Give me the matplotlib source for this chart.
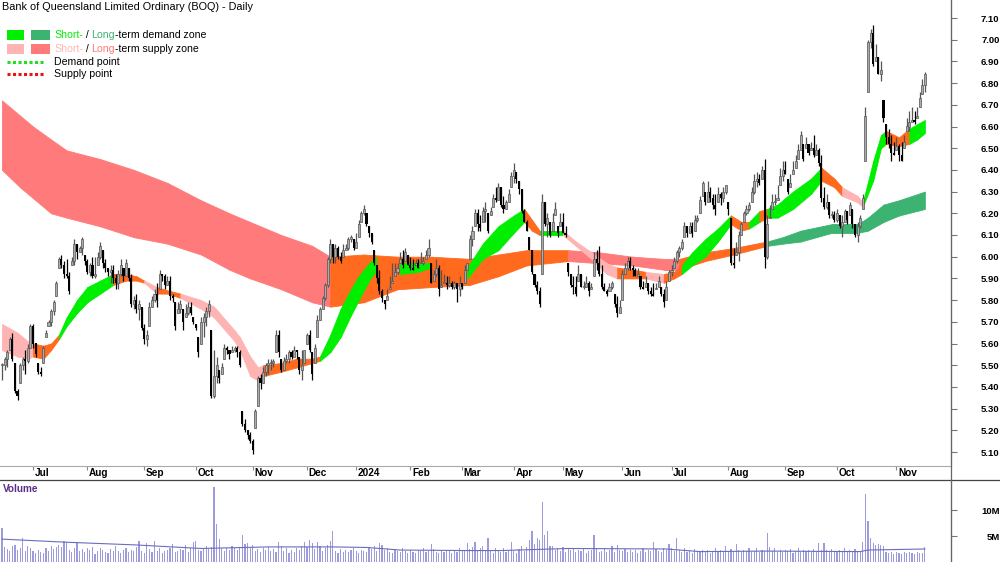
import numpy as np
import matplotlib
matplotlib.use("Agg")
import matplotlib.pyplot as plt
from matplotlib.lines import Line2D
from matplotlib.patches import Rectangle
from matplotlib.transforms import blended_transform_factory

plt.rcParams['font.family'] = ['Liberation Sans', 'DejaVu Sans']

# daily bars, prices in cents (Jun 2023 - Nov 2024)
highs = [
    551, 554, 557, 563, 565, 551, 539, 551, 554, 557, 560, 569, 569, 560, 551, 549, 559, 566, 571, 576,
    580, 589, 600, 601, 598, 599, 593, 600, 608, 606, 605, 609, 601, 599, 597, 600, 600, 602, 607, 603,
    599, 595, 596, 596, 592, 594, 599, 595, 599, 595, 592, 582, 583, 580, 577, 569, 566, 579, 582, 585,
    588, 594, 592, 592, 591, 591, 583, 579, 579, 580, 576, 578, 579, 579, 572, 569, 563, 572, 574, 577,
    580, 566, 557, 554, 548, 551, 560, 559, 557, 559,
    559, 559, 557, 529, 525, 520, 519, 516, 530, 545, 546, 549, 551, 553, 553, 553, 566, 566, 553, 554,
    555, 557, 557, 559, 557, 554, 557, 557, 565, 566, 556, 560, 573, 577, 582, 588, 600, 608, 606, 606,
    605, 602, 606, 606, 609, 610, 608, 611, 617, 621, 624, 620, 614, 611, 603, 596, 594, 585, 580, 585,
    591, 597, 597, 597, 602, 603, 604, 601, 600, 599, 599, 599, 602, 600, 603, 608, 597, 594, 599, 596,
    594, 592, 591, 591, 589, 589, 588, 591, 588, 596, 597, 610,
    614, 622, 622, 619, 623, 625, 620, 623, 629, 632, 634, 632, 628, 626, 631, 639, 643, 639, 635, 631,
    622, 617, 609, 603, 592, 589, 586, 629, 625, 620, 616, 620, 625, 614, 620, 620, 614, 597, 592, 591,
    591, 596, 592, 589, 591, 589, 588, 602, 603, 605, 596, 588, 585, 588, 589, 583, 582, 580, 594, 597,
    600, 600, 596, 595, 595, 591, 589, 591, 588, 586, 588, 588, 591, 586, 585, 589, 594, 596, 600, 603,
    605, 608, 616, 614, 616, 616, 619, 619, 628, 635,
    630, 635, 632, 629, 629, 632, 630, 632, 633, 625, 618, 604, 607, 612, 616, 621, 624, 625, 632, 638,
    639, 638, 642, 645, 619, 624, 629, 629, 633, 641, 644, 644, 636, 638, 644, 647, 652, 658, 652, 655,
    652, 653, 656, 652, 650, 647, 632, 629, 625, 621, 621, 622, 619, 619, 622, 621, 625, 622, 615, 616,
    619, 629, 669, 700, 705, 707, 698, 692, 690, 672, 661, 659, 656, 653, 655, 652, 653, 656, 664, 667,
    669, 667, 669, 676, 682, 685,
]
lows = [
    543, 548, 549, 557, 552, 537, 534, 542, 548, 546, 551, 558, 558, 554, 546, 545, 551, 563, 568, 568,
    573, 582, 595, 595, 590, 590, 583, 596, 596, 599, 602, 601, 596, 592, 591, 590, 590, 596, 599, 595,
    593, 591, 588, 588, 585, 585, 591, 589, 591, 589, 577, 576, 574, 571, 566, 560, 559, 568, 577, 579,
    577, 585, 589, 585, 587, 580, 579, 566, 574, 574, 566, 572, 573, 573, 569, 566, 554, 560, 563, 568,
    572, 535, 535, 542, 542, 546, 553, 555, 553, 556,
    556, 554, 549, 522, 519, 516, 514, 509, 521, 531, 539, 542, 545, 546, 548, 549, 556, 554, 547, 548,
    551, 551, 553, 554, 553, 546, 543, 551, 560, 556, 543, 551, 563, 571, 576, 580, 586, 597, 597, 597,
    599, 597, 600, 603, 603, 607, 603, 604, 609, 616, 619, 614, 609, 606, 596, 588, 583, 579, 576, 580,
    585, 588, 591, 592, 597, 595, 598, 596, 594, 594, 596, 595, 597, 596, 599, 600, 588, 589, 591, 582,
    586, 588, 585, 586, 585, 585, 579, 582, 585, 588, 594, 599,
    605, 614, 612, 612, 616, 616, 611, 619, 623, 625, 626, 623, 620, 622, 625, 632, 634, 634, 629, 620,
    616, 612, 603, 592, 586, 583, 577, 592, 614, 609, 609, 612, 619, 609, 614, 611, 609, 591, 586, 583,
    582, 589, 586, 585, 586, 582, 585, 591, 594, 591, 585, 584, 582, 584, 585, 577, 572, 574, 580, 592,
    594, 594, 591, 591, 591, 585, 585, 586, 583, 582, 582, 585, 586, 582, 577, 580, 589, 591, 595, 597,
    600, 603, 609, 609, 611, 609, 612, 616, 620, 628,
    624, 625, 625, 622, 619, 625, 624, 625, 629, 619, 596, 595, 601, 598, 610, 616, 619, 621, 625, 629,
    632, 633, 636, 595, 599, 618, 622, 624, 626, 633, 635, 638, 629, 632, 638, 641, 645, 649, 644, 650,
    647, 649, 646, 647, 642, 625, 622, 622, 618, 618, 616, 616, 613, 609, 616, 615, 619, 613, 609, 607,
    613, 622, 644, 676, 696, 688, 690, 684, 681, 662, 652, 650, 644, 647, 649, 644, 644, 650, 658, 658,
    662, 661, 664, 669, 675, 676,
]
closes = [
    550, 553, 556, 562, 553, 538, 536, 550, 553, 552, 558, 568, 560, 555, 547, 546, 558, 565, 570, 575,
    579, 588, 599, 596, 592, 591, 584, 598, 606, 602, 604, 608, 598, 593, 596, 591, 592, 600, 605, 597,
    595, 593, 594, 590, 588, 592, 596, 591, 597, 590, 578, 580, 576, 578, 567, 562, 564, 577, 580, 583,
    580, 592, 591, 587, 589, 582, 581, 568, 576, 578, 570, 574, 577, 574, 570, 567, 556, 570, 572, 575,
    578, 536, 545, 550, 544, 549, 558, 557, 555, 557,
    558, 556, 550, 523, 520, 518, 515, 511, 529, 544, 542, 547, 550, 551, 551, 552, 564, 556, 548, 552,
    553, 556, 554, 557, 556, 548, 550, 557, 564, 557, 546, 558, 571, 576, 581, 587, 599, 606, 600, 604,
    600, 598, 603, 604, 608, 609, 604, 607, 615, 620, 622, 615, 611, 607, 597, 590, 584, 581, 578, 582,
    586, 589, 593, 595, 599, 596, 602, 596, 595, 594, 597, 595, 597, 598, 601, 604, 588, 592, 595, 585,
    587, 588, 587, 588, 586, 588, 585, 588, 586, 594, 597, 608,
    612, 620, 615, 613, 621, 622, 612, 621, 627, 626, 632, 624, 622, 625, 629, 637, 640, 636, 631, 621,
    616, 612, 603, 593, 587, 584, 578, 625, 615, 618, 610, 616, 622, 611, 616, 611, 610, 593, 587, 586,
    583, 592, 586, 586, 588, 584, 586, 599, 597, 592, 586, 584, 583, 586, 588, 578, 574, 577, 592, 595,
    598, 595, 594, 591, 592, 586, 585, 588, 584, 583, 582, 585, 589, 583, 579, 586, 593, 594, 598, 602,
    604, 607, 614, 611, 614, 611, 617, 618, 626, 634,
    625, 630, 627, 624, 622, 629, 627, 630, 633, 622, 597, 596, 602, 610, 615, 620, 622, 624, 630, 635,
    636, 634, 640, 600, 615, 618, 625, 625, 627, 637, 640, 638, 630, 634, 640, 644, 649, 656, 645, 652,
    648, 650, 647, 649, 643, 627, 623, 625, 619, 619, 617, 620, 614, 616, 621, 617, 624, 615, 610, 614,
    618, 627, 665, 699, 703, 689, 692, 684, 686, 664, 655, 652, 648, 647, 651, 647, 644, 653, 660, 662,
    663, 662, 665, 673, 679, 684,
]
# volume in 0.1M shares
volumes = [
    66, 28, 25, 22, 30, 33, 24, 27, 47, 22, 30, 26, 22, 18, 24, 20, 17, 26, 21, 30,
    25, 29, 33, 28, 40, 38, 24, 20, 26, 38, 22, 25, 19, 27, 23, 28, 16, 22, 27, 24,
    20, 18, 25, 22, 30, 21, 17, 23, 26, 19, 24, 21, 28, 40, 22, 18, 37, 25, 20, 40,
    22, 26, 18, 21, 24, 27, 34, 19, 22, 25, 23, 33, 20, 27, 38, 41, 24, 22, 26, 30,
    25, 28, 144, 73, 44, 26, 22, 27, 24, 30, 26, 23, 29, 52, 34, 36, 27, 33, 22, 25,
    20, 26, 23, 28, 21, 25, 19, 38, 31, 22, 26, 18, 24, 20, 27, 23, 30, 38, 28, 42,
    36, 25, 38, 30, 22, 27, 33, 40, 60, 22, 18, 25, 20, 24, 19, 23, 26, 21, 17, 24,
    22, 20, 28, 25, 30, 22, 36, 33, 24, 27, 20, 18, 24, 22, 19, 26, 21, 17, 23, 20,
    18, 24, 21, 26, 19, 22, 34, 25, 20, 18, 23, 19, 21, 24, 17, 22, 20, 26, 21, 23,
    36, 25, 29, 38, 22, 27, 30, 24, 46, 21, 18, 26, 23, 20, 27, 19, 24, 38, 22, 17,
    25, 30, 22, 28, 42, 60, 34, 46, 42, 116, 52, 60, 31, 30, 24, 26, 22, 28, 20, 25,
    23, 27, 19, 24, 21, 26, 18, 22, 24, 52, 25, 20, 22, 26, 19, 23, 31, 20, 33, 24,
    21, 25, 19, 23, 20, 24, 18, 22, 26, 20, 24, 21, 39, 25, 22, 20, 27, 23, 34, 26,
    22, 46, 24, 20, 27, 19, 22, 18, 25, 21, 20, 23, 19, 24, 18, 22, 26, 20, 23, 19,
    31, 22, 25, 20, 35, 23, 19, 24, 21, 26, 20, 22, 27, 19, 24, 21, 55, 29, 22, 26,
    20, 24, 19, 23, 21, 25, 18, 22, 26, 20, 24, 21, 23, 19, 25, 22, 37, 24, 37, 23,
    20, 25, 22, 19, 24, 21, 26, 20, 23, 19, 25, 22, 21, 38, 130, 78, 46, 36, 33, 34,
    33, 30, 20, 17, 19, 16, 20, 18, 15, 19, 17, 20, 18, 16, 19, 17, 18, 28,
]
vol_ma_idx = [0, 25, 51, 77, 103, 128, 141, 154, 180, 193, 219, 257, 270, 296, 332, 335, 357]
vol_ma = [4.4, 3.8, 3.3, 2.6, 2.9, 2.9, 2.8, 2.3, 2.2, 2.2, 2.6, 2.5, 2.0, 2.1, 2.0, 2.3, 2.5]

month_labels = ["Jul", "Aug", "Sep", "Oct", "Nov", "Dec", "2024", "Feb", "Mar", "Apr",
                "May", "Jun", "Jul", "Aug", "Sep", "Oct", "Nov"]
month_starts = [12, 33, 55, 75, 97, 118, 137, 158, 178, 198, 217, 240, 259, 281, 303, 323, 346]

# long-term zone band (bar index, upper, lower) and state of each segment
long_idx = [0, 7, 12, 19, 25, 38, 51, 64, 77, 88, 96, 108, 120, 127, 140, 153, 166, 181, 192,
            203, 219, 231, 244, 256, 262, 272, 283, 296, 302, 309, 321, 331, 335, 341, 347, 357]
long_top = [6.72, 6.65, 6.60, 6.54, 6.49, 6.45, 6.40, 6.34, 6.26, 6.20, 6.16, 6.10, 6.05, 6.00,
            6.01, 6.00, 6.00, 5.99, 6.01, 6.03, 6.03, 6.02, 6.00, 5.99, 5.99, 6.02, 6.04, 6.07,
            6.09, 6.12, 6.15, 6.15, 6.18, 6.24, 6.26, 6.30]
long_bot = [6.40, 6.32, 6.27, 6.20, 6.18, 6.14, 6.09, 6.06, 6.01, 5.94, 5.90, 5.85, 5.79, 5.77,
            5.79, 5.85, 5.86, 5.87, 5.91, 5.96, 5.98, 5.97, 5.96, 5.94, 5.94, 5.98, 6.01, 6.05,
            6.06, 6.07, 6.11, 6.11, 6.12, 6.16, 6.19, 6.22]
long_zone = "rrrrrrrrrrrrr" + "ooooooo" + "rrrr" + "ooo" + "gggggggg"

# short-term zone band
short_idx = [0, 6, 10, 12, 16, 19, 22, 25, 29, 33, 38, 43, 48, 52, 55, 60, 64, 69, 77, 82,
             90, 92, 96, 99, 101, 108, 114, 120, 123, 127, 131, 135, 138, 142, 145, 150, 154,
             161, 166, 172, 180, 186, 192, 198, 202, 205, 208, 217, 222, 228, 234, 238, 244,
             249, 256, 260, 263, 267, 272, 277, 282, 286, 289, 293, 296, 300, 306, 313, 317,
             322, 325, 331, 333, 337, 340, 342, 347, 351, 354, 357]
short_top = [5.69, 5.65, 5.61, 5.60, 5.59, 5.60, 5.64, 5.72, 5.80, 5.86, 5.89, 5.92, 5.92, 5.91,
             5.89, 5.86, 5.845, 5.83, 5.80, 5.77, 5.66, 5.63, 5.54, 5.49, 5.50, 5.51, 5.53, 5.53,
             5.54, 5.64, 5.76, 5.85, 5.91, 5.97, 6.00, 5.99, 5.97, 5.97, 5.97, 5.96, 5.95, 6.06,
             6.14, 6.19, 6.22, 6.17, 6.12, 6.12, 6.07, 6.02, 5.97, 5.95, 5.94, 5.93, 5.92, 5.93,
             5.96, 6.02, 6.08, 6.13, 6.19, 6.16, 6.16, 6.21, 6.22, 6.24, 6.30, 6.36, 6.41, 6.36,
             6.32, 6.28, 6.25, 6.44, 6.56, 6.58, 6.55, 6.59, 6.61, 6.63]
short_bot = [5.57, 5.54, 5.53, 5.54, 5.53, 5.57, 5.62, 5.68, 5.74, 5.79, 5.83, 5.87, 5.89, 5.89,
             5.88, 5.83, 5.83, 5.81, 5.76, 5.72, 5.61, 5.57, 5.45, 5.43, 5.45, 5.47, 5.49, 5.51,
             5.52, 5.56, 5.63, 5.73, 5.80, 5.89, 5.94, 5.91, 5.92, 5.93, 5.95, 5.93, 5.90, 5.99,
             6.03, 6.11, 6.16, 6.12, 6.10, 6.10, 6.05, 5.99, 5.92, 5.90, 5.90, 5.90, 5.88, 5.90,
             5.92, 5.96, 6.00, 6.07, 6.15, 6.12, 6.13, 6.16, 6.18, 6.18, 6.22, 6.29, 6.35, 6.32,
             6.28, 6.25, 6.23, 6.35, 6.50, 6.52, 6.51, 6.52, 6.54, 6.57]
short_zone = ("ppp" + "ooo" + "GGGGG" + "ooo" + "p" + "oo" + "ppppppp" + "oooo" + "GGGGGG" + "oo"
              + "GG" + "oo" + "GGGG" + "oo" + "G" + "pppp" + "oo" + "p" + "oo" + "GGGG" + "oo" + "G"
              + "o" + "GGGG" + "oo" + "pp" + "GGG" + "oo" + "GG")

ZONE_COLORS = {
    'G': '#00ee00',   # short-term demand
    'g': '#3cb371',   # long-term demand
    'p': '#ffb4b4',   # short-term supply
    'r': '#ff7a7a',   # long-term supply
    'o': '#ff6a1e',   # neutral
}

W, H = 1000, 562
fig = plt.figure(figsize=(W / 100, H / 100), dpi=100)
ax = fig.add_axes([0, 1 - 466 / H, 951 / W, 466 / H])
axv = fig.add_axes([0, 0, 951 / W, 82 / H])

hi = np.array(highs) / 100
lo = np.array(lows) / 100
cl = np.array(closes) / 100
hi = np.maximum(hi, cl)
lo = np.minimum(lo, cl)
op = np.clip(np.r_[cl[0], cl[:-1]], lo, hi)
x = np.arange(len(cl))


def draw_band(a, idx, top, bot, zones, z):
    for k, s in enumerate(zones):
        a.fill_between(idx[k:k + 2], bot[k:k + 2], top[k:k + 2], color=ZONE_COLORS[s],
                       lw=0.6, zorder=z)


draw_band(ax, long_idx, long_top, long_bot, long_zone, 1)
draw_band(ax, short_idx, short_top, short_bot, short_zone, 2)

# candles
up = cl >= op
body_lo = np.minimum(op, cl)
body_h = np.maximum(np.abs(cl - op), 0.005)
ax.vlines(x[up], lo[up], hi[up], color='#555555', lw=0.9, zorder=3)
ax.vlines(x[~up], lo[~up], hi[~up], color='black', lw=0.9, zorder=3)
ax.bar(x[up], body_h[up], 0.8, bottom=body_lo[up], color='#aaaaaa', edgecolor='#555555',
       lw=0.5, zorder=4)
ax.bar(x[~up], body_h[~up], 0.8, bottom=body_lo[~up], color='black', lw=0, zorder=4)

x0 = -2 / 2.585
ax.set_xlim(x0, x0 + 951 / 2.585)
ax.set_ylim(7.10 - 448 / 217, 7.10 + 18 / 217)
for s in ['left', 'top']:
    ax.spines[s].set_visible(False)
ax.spines['right'].set_color('#777777')
ax.spines['bottom'].set_color('#aaaaaa')
ax.yaxis.tick_right()
yt = np.round(np.arange(5.1, 7.11, 0.1), 2)
ax.set_yticks(yt)
ax.set_yticklabels([f'{v:.2f}' for v in yt], fontweight='bold', fontsize=6.8, ha='right')
ax.tick_params(axis='y', direction='out', length=4, color='#777777', pad=31)
ax.set_xticks(month_starts)
ax.set_xticklabels([])
ax.tick_params(axis='x', direction='out', length=3, color='#888888')
tr = blended_transform_factory(ax.transData, ax.transAxes)
for m, lab in zip(month_starts, month_labels):
    ax.text(m + 0.6, -0.016, lab, transform=tr, ha='left', va='center', fontsize=7.2,
            fontweight='bold')

# volume panel
axv.bar(x, np.array(volumes) / 10, 0.45, color='#9c9cdc', lw=0)
axv.plot(vol_ma_idx, vol_ma, color='#6b6bc0', lw=0.8)
axv.set_xlim(ax.get_xlim())
axv.set_ylim(0, 82 / 5.2)
for s in ['left', 'top', 'bottom']:
    axv.spines[s].set_visible(False)
axv.spines['right'].set_color('#777777')
axv.yaxis.tick_right()
axv.set_yticks([5, 10])
axv.set_yticklabels(['5M', '10M'], fontweight='bold', fontsize=6.8, ha='right')
axv.tick_params(axis='y', direction='out', length=4, color='#777777', pad=31)
axv.set_xticks([])
axv.text(0.003, 0.89, 'Volume', transform=axv.transAxes, color='#5b2d86', fontweight='bold',
         fontsize=7.2, va='center')

fig.add_artist(Line2D([0, 1], [82 / H, 82 / H], color='#444444', lw=0.9, transform=fig.transFigure))
fig.add_artist(Line2D([951 / W, 951 / W], [0, 1], color='#666666', lw=0.9, transform=fig.transFigure))

# title and legend
fig.text(2 / W, 1 - 7 / H, 'Bank of Queensland Limited Ordinary (BOQ) - Daily', fontsize=7.8,
         va='center', ha='left')


def box(x_px, y_px, w_px, h_px, c):
    fig.add_artist(Rectangle((x_px / W, 1 - (y_px + h_px) / H), w_px / W, h_px / H,
                             transform=fig.transFigure, color=c, lw=0))


box(7, 30, 17, 10, ZONE_COLORS['G'])
box(31, 30, 19, 10, ZONE_COLORS['g'])
box(7, 44, 17, 10, ZONE_COLORS['p'])
box(31, 44, 19, 10, ZONE_COLORS['r'])
fig.add_artist(Line2D([7 / W, 45 / W], [1 - 62 / H] * 2, color='#22dd22', lw=2.2,
                      linestyle=(0, (1, 0.8)), transform=fig.transFigure))
fig.add_artist(Line2D([7 / W, 45 / W], [1 - 74 / H] * 2, color='#ee1111', lw=2.2,
                      linestyle=(0, (1, 0.8)), transform=fig.transFigure))

renderer = fig.canvas.get_renderer()


def color_run(x_px, y_px, parts):
    xf = x_px / W
    for s, c in parts:
        t = fig.text(xf, 1 - y_px / H, s, color=c, fontsize=7.6, va='center', ha='left')
        xf = t.get_window_extent(renderer).x1 / fig.bbox.width


color_run(54, 35, [("Short-", ZONE_COLORS['G']), (" / ", 'black'), ("Long", ZONE_COLORS['g']),
                   ("-term demand zone", 'black')])
color_run(54, 49, [("Short-", ZONE_COLORS['p']), (" / ", 'black'), ("Long", ZONE_COLORS['r']),
                   ("-term supply zone", 'black')])
color_run(54, 62, [("Demand point", 'black')])
color_run(54, 74, [("Supply point", 'black')])

fig.savefig('out.png', dpi=100, facecolor='white')
